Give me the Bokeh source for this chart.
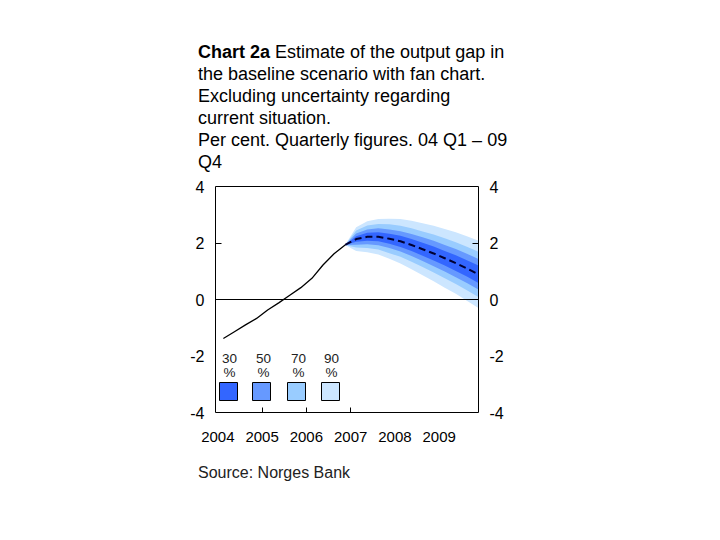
# Norges Bank chart 2a: output gap with fan chart (Bokeh)

from bokeh.embed import file_html
from bokeh.layouts import column
from bokeh.models import BoxAnnotation, Div, FixedTicker, Label, LinearAxis, Range1d, Span
from bokeh.plotting import figure
from bokeh.resources import INLINE

# %%
# quarter index: 0 = 2004 Q1 ... 23 = 2009 Q4
hist_q = list(range(0, 12))
hist_gap = [-1.38, -1.14, -0.90, -0.67, -0.37, -0.12, 0.15, 0.42, 0.75, 1.22, 1.62, 1.93]

proj_q = list(range(11, 24))
proj_gap = [1.93, 2.14, 2.22, 2.22, 2.15, 2.06, 1.93, 1.78, 1.63, 1.46, 1.29, 1.10, 0.90]

# half width of each band of the fan (same quarters as proj_q)
band_30 = [0, 0.10, 0.14, 0.16, 0.18, 0.20, 0.21, 0.23, 0.25, 0.26, 0.28, 0.29, 0.31]
band_50 = [0, 0.20, 0.26, 0.30, 0.33, 0.36, 0.39, 0.42, 0.45, 0.47, 0.50, 0.52, 0.54]
band_70 = [0, 0.30, 0.40, 0.45, 0.51, 0.55, 0.59, 0.63, 0.67, 0.71, 0.74, 0.77, 0.80]
band_90 = [0, 0.42, 0.55, 0.63, 0.71, 0.79, 0.86, 0.92, 0.98, 1.04, 1.09, 1.14, 1.19]

band_names = ["30", "50", "70", "90"]
band_colors = ["#3366FF", "#6699FF", "#99CCFF", "#CCE6FF"]

year_labels = ["2004", "2005", "2006", "2007", "2008", "2009"]
year_pos = [-0.5, 3.5, 7.5, 11.5, 15.5, 19.5]
year_ticks = [3.5, 7.5, 11.5]

y_ticks = [-4, -2, 0, 2, 4]
y_labels = ["-4", "-2", "0", "2", "4"]

title_bold = "Chart 2a"
title_lines = [
    "Estimate of the output gap in",
    "the baseline scenario with fan chart.",
    "Excluding uncertainty regarding",
    "current situation.",
    "Per cent. Quarterly figures. 04 Q1 \u2013 09",
    "Q4",
]
source_text = "Source: Norges Bank"

FONT = "Liberation Sans"

# %%
p = figure(
    frame_width=263, frame_height=226,
    x_range=Range1d(-0.71, 23.05), y_range=Range1d(-4, 4),
    min_border_left=215, min_border_right=222, min_border_top=12, min_border_bottom=40,
    output_backend="svg", toolbar_location=None,
)
p.grid.visible = False
p.outline_line_color = "black"
p.outline_line_width = 1

# x軸 年ラベルは年の区切りに、目盛りは2005-2007だけ
xa = p.xaxis[0]
xa.ticker = FixedTicker(ticks=year_pos, minor_ticks=year_ticks)
xa.major_label_overrides = {pos: lab for pos, lab in zip(year_pos, year_labels)}
xa.major_tick_in = 0
xa.major_tick_out = 0
xa.minor_tick_in = 5
xa.minor_tick_out = 0
xa.minor_tick_line_color = "black"
xa.axis_line_color = None
xa.major_label_standoff = 19
xa.major_label_text_font = FONT
xa.major_label_text_font_size = "15px"
xa.major_label_text_color = "black"

ya = p.yaxis[0]
ya_right = LinearAxis()
p.add_layout(ya_right, "right")
for ax in (ya, ya_right):
    ax.ticker = FixedTicker(ticks=y_ticks, minor_ticks=[2])
    ax.major_label_overrides = {t: lab for t, lab in zip(y_ticks, y_labels)}
    ax.major_tick_in = 0
    ax.major_tick_out = 0
    ax.minor_tick_in = 6
    ax.minor_tick_out = 0
    ax.minor_tick_line_color = "black"
    ax.axis_line_color = None
    ax.major_label_standoff = 11
    ax.major_label_text_font = FONT
    ax.major_label_text_font_size = "16px"
    ax.major_label_text_color = "black"

p.add_layout(Span(location=0, dimension="width", line_color="black", line_width=1))

# fan, widest band first
for width, color in reversed(list(zip([band_30, band_50, band_70, band_90], band_colors))):
    lower = [c - w for c, w in zip(proj_gap, width)]
    upper = [c + w for c, w in zip(proj_gap, width)]
    p.varea(x=proj_q, y1=lower, y2=upper, fill_color=color, fill_alpha=1)

p.line(proj_q, proj_gap, line_color="#000033", line_width=2, line_dash="7 4")
p.line(hist_q, hist_gap, line_color="black", line_width=1.3)

# legend boxes (screen units from frame corner)
box_left = [4, 37, 72, 106]
text_x = [14, 48, 83, 116]
for name, color, bl, tx in zip(band_names, band_colors, box_left, text_x):
    p.add_layout(BoxAnnotation(left=bl, right=bl + 18, bottom=12, top=30,
                               left_units="screen", right_units="screen",
                               top_units="screen", bottom_units="screen",
                               fill_color=color, fill_alpha=1, line_color="black", line_width=1, line_alpha=1))
    p.add_layout(Label(x=tx, y=50, x_units="screen", y_units="screen", text=name, text_align="center",
                       text_font=FONT, text_font_size="13.5px", text_color="#222222"))
    p.add_layout(Label(x=tx, y=33, x_units="screen", y_units="screen", text="%", text_align="center",
                       text_font=FONT, text_font_size="13.5px", text_color="#222222"))

# title and source as html text above and below the figure
title_html = "<b>" + title_bold + "</b> " + "<br>".join(title_lines)
title_div = Div(
    text=title_html, width=360, height=133, margin=(41, 0, 0, 198),
    styles={"font-family": FONT, "font-size": "18px", "line-height": "22px",
            "color": "black", "white-space": "nowrap"},
)
source_div = Div(
    text=source_text, width=300, height=20, margin=(12, 0, 0, 198),
    styles={"font-family": FONT, "font-size": "16px", "line-height": "18.4px",
            "color": "#222222", "white-space": "nowrap"},
)

layout = column(title_div, p, source_div, spacing=0, margin=0)

open("out.html", "w").write(file_html(layout, INLINE))
